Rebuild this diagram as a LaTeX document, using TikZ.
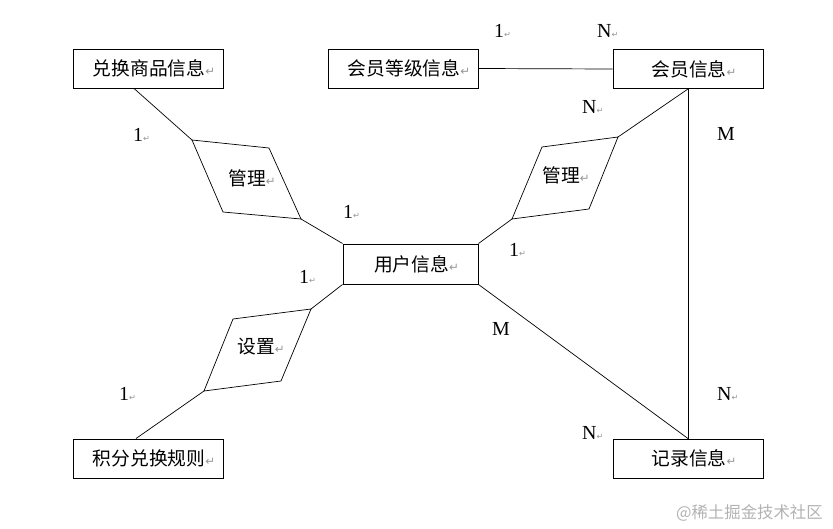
\documentclass[tikz,border=0pt]{standalone}
\usepackage{fontspec}
\setmainfont{Liberation Serif}
\newfontfamily\cjk{Noto Sans CJK SC}
\newfontfamily\symfont{DejaVu Sans}
\definecolor{markgray}{RGB}{150,150,150}
\definecolor{wmgray}{RGB}{178,178,178}
\newcommand{\pmark}{{\symfont\fontsize{10}{10}\selectfont\color{markgray}↵}}
\newcommand{\nmark}{{\symfont\fontsize{7}{7}\selectfont\color{markgray}↵}}
\newcommand{\etext}[1]{\hspace*{0.36cm}#1\pmark}

\begin{document}
\begin{tikzpicture}[x=0.03cm,y=-0.03cm,
  entity/.style={rectangle,draw,line width=0.8pt,minimum width=4.5cm,
    minimum height=1.17cm,inner sep=0pt,font=\cjk\fontsize{16}{16}\selectfont},
  relname/.style={inner sep=0pt,font=\cjk\fontsize{16}{16}\selectfont},
  rel/.style={draw,line width=0.6pt,line join=miter},
  card/.style={anchor=west,inner sep=0pt,font=\fontsize{17}{17}\selectfont},
  link/.style={line width=0.6pt}
]
\useasboundingbox (0,0) rectangle (833,529);

% entities
\node[entity] (goods)  at (148,68.5)  {\etext{兑换商品信息}};
\node[entity] (level)  at (403,68.5)  {\etext{会员等级信息}};
\node[entity] (member) at (688,69)    {\etext{会员信息}};
\node[entity,minimum width=4.05cm,minimum height=1.2cm] (user) at (410.5,264) {\etext{用户信息}};
\node[entity] (rule)   at (148,458.5) {\etext{积分兑换规则}};
\node[entity] (record) at (688,458.5) {\etext{记录信息}};

% relationships
\coordinate (ml1) at (192,140);
\coordinate (ml2) at (269,148);
\coordinate (ml3) at (301,219);
\coordinate (ml4) at (223,212);
\draw[rel] (ml1) -- (ml2) -- (ml3) -- (ml4) -- cycle;
\node[relname] (mlname) at (252,178) {管理\pmark};

\coordinate (mr1) at (542,147);
\coordinate (mr2) at (618,137);
\coordinate (mr3) at (589,209);
\coordinate (mr4) at (512,219);
\draw[rel] (mr1) -- (mr2) -- (mr3) -- (mr4) -- cycle;
\node[relname] (mrname) at (566,175) {管理\pmark};

\coordinate (st1) at (233,319);
\coordinate (st2) at (311,309);
\coordinate (st3) at (281,381);
\coordinate (st4) at (204,391);
\draw[rel] (st1) -- (st2) -- (st3) -- (st4) -- cycle;
\node[relname] (stname) at (261,347) {设置\pmark};

% links
\draw[link] ([xshift=-0.42cm]goods.south) -- (ml1);
\draw[link] (ml3) -- (user.north west);
\draw[link] (user.north east) -- (mr4);
\draw[link] (mr2) -- (member.south);
\draw[link] (level.east) -- (member.west);
\draw[link] (member.south) -- (record.north);
\draw[link] (user.south east) -- (record.north);
\draw[link] (user.south west) -- (st2);
\draw[link] (st4) -- ([xshift=-0.36cm]rule.north);

% cardinalities
\node[card] (c1) at (133,135) {1\nmark};
\node[card] (c2) at (343,212) {1\nmark};
\node[card] (c3) at (299,277) {1\nmark};
\node[card] (c4) at (119,394) {1\nmark};
\node[card] (c5) at (494,31)  {1\nmark};
\node[card] (c6) at (597,31)  {N\nmark};
\node[card] (c7) at (582,107) {N\nmark};
\node[card] (c8) at (509,250) {1\nmark};
\node[card] (c9) at (717,134) {M};
\node[card] (c10) at (492,329) {M};
\node[card] (c11) at (717,394) {N\nmark};
\node[card] (c12) at (582,433) {N\nmark};

\node[anchor=east,inner sep=0pt,text=wmgray,font=\cjk\fontsize{14}{14}\selectfont] (mark) at (823,513) {@稀土掘金技术社区};
\end{tikzpicture}
\end{document}
